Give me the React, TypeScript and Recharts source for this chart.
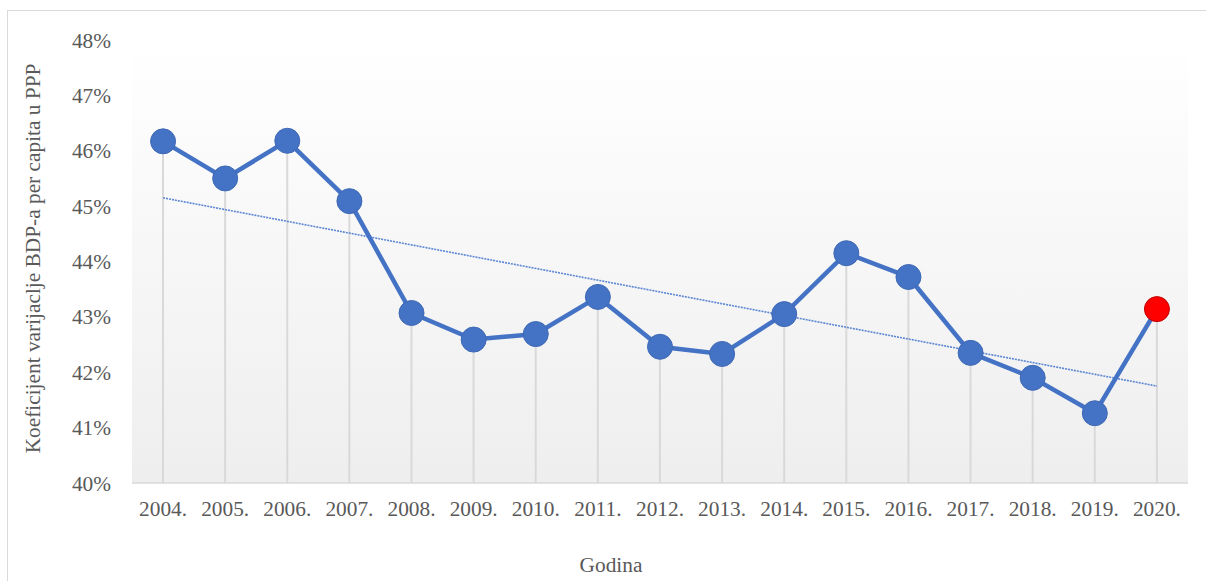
import {
  ComposedChart,
  Line,
  Bar,
  XAxis,
  YAxis,
  CartesianGrid,
} from "recharts";

const years = [
  "2004.", "2005.", "2006.", "2007.", "2008.", "2009.", "2010.", "2011.", "2012.",
  "2013.", "2014.", "2015.", "2016.", "2017.", "2018.", "2019.", "2020.",
];

const coefficient = [
  46.17, 45.5, 46.18, 45.09, 43.07, 42.59, 42.69, 43.36, 42.46, 42.33, 43.05,
  44.15, 43.72, 42.35, 41.9, 41.26, 43.14,
];

// linear trend line, read at its two ends
const trendStart = 45.15;
const trendEnd = 41.75;

const yTicks = [40, 41, 42, 43, 44, 45, 46, 47, 48];

const chartData = years.map((year, i) => ({
  year,
  value: coefficient[i],
  trend: i === 0 ? trendStart : i === years.length - 1 ? trendEnd : null,
}));

const FONT = "'Liberation Serif', 'Times New Roman', serif";
const TEXT = "#595959";
const BLUE = "#4472C4";

function Dot(props: any) {
  const { cx, cy, index } = props;
  if (cx == null || cy == null) return null;
  const last = index === years.length - 1;
  return (
    <circle
      key={`dot-${index}`}
      cx={cx}
      cy={cy}
      r={12.5}
      fill={last ? "#ff0000" : BLUE}
      stroke={last ? "#c00000" : "#3f69b5"}
      strokeWidth={1}
    />
  );
}

export default function App() {
  return (
    <div style={{ position: "absolute", top: 0, left: 0, width: 1206, height: 581 }}>
      <div
        style={{
          position: "absolute",
          left: 7,
          top: 10,
          width: 1220,
          height: 600,
          border: "1px solid #d9d9d9",
        }}
      />
      <ComposedChart
        width={1206}
        height={581}
        data={chartData}
        margin={{ top: 40, right: 18, bottom: 68, left: 0 }}
        style={{ fontFamily: FONT, position: "absolute", top: 0, left: 0 }}
      >
        <defs>
          <linearGradient id="plotBg" x1="0" y1="0" x2="0" y2="1">
            <stop offset="0%" stopColor="#ffffff" />
            <stop offset="100%" stopColor="#eeeeee" />
          </linearGradient>
        </defs>
        <CartesianGrid
          horizontal={false}
          vertical={false}
          fill="url(#plotBg)"
          fillOpacity={1}
        />
        <XAxis
          dataKey="year"
          height={30}
          tickLine={false}
          axisLine={{ stroke: "#d9d9d9", strokeWidth: 1.5 }}
          tickMargin={12}
          interval={0}
          tick={{ fill: TEXT, fontSize: 21.33, fontFamily: FONT }}
          label={{
            content: (p: any) => {
              const vb = p.viewBox;
              return (
                <text
                  x={vb.x + vb.width / 2 - 49}
                  y={vb.y + 89}
                  textAnchor="middle"
                  fill={TEXT}
                  fontSize={21.33}
                  fontFamily={FONT}
                >
                  Godina
                </text>
              );
            },
          }}
        />
        <YAxis
          width={132}
          domain={[40, 48]}
          ticks={yTicks}
          tickLine={false}
          axisLine={false}
          tickMargin={15}
          tickFormatter={(v) => `${v}%`}
          tick={{ fill: TEXT, fontSize: 21.33, fontFamily: FONT }}
          label={{
            content: (p: any) => {
              const vb = p.viewBox;
              const x = vb.x + 33;
              const y = vb.y + vb.height / 2 - 3;
              return (
                <text
                  x={x}
                  y={y}
                  transform={`rotate(-90 ${x} ${y})`}
                  textAnchor="middle"
                  dominantBaseline="central"
                  fill={TEXT}
                  fontSize={21.33}
                  fontFamily={FONT}
                >
                  Koeficijent varijaclje BDP-a per capita u PPP
                </text>
              );
            },
          }}
        />
        <Bar dataKey="value" barSize={2} fill="#d9d9d9" isAnimationActive={false} />
        <Line
          dataKey="trend"
          connectNulls
          stroke="#5b86d3"
          strokeWidth={1.6}
          strokeDasharray="2 1"
          dot={false}
          activeDot={false}
          isAnimationActive={false}
        />
        <Line
          dataKey="value"
          type="linear"
          stroke={BLUE}
          strokeWidth={4.5}
          dot={<Dot />}
          activeDot={false}
          isAnimationActive={false}
        />
      </ComposedChart>
    </div>
  );
}
